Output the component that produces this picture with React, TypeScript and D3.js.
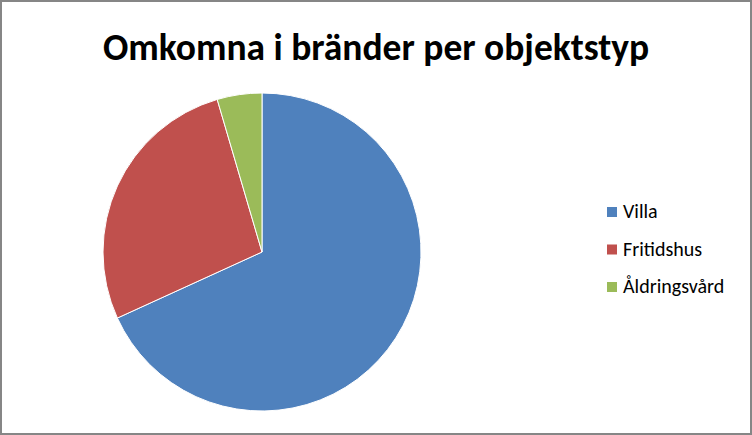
import React, { useEffect, useRef } from 'react';
import * as d3 from 'd3';

const categories = ['Villa', 'Fritidshus', 'Åldringsvård'];
const values = [15, 6, 1];
const colors = ['#4f81bd', '#c0504d', '#9bbb59'];
const title = 'Omkomna i bränder per objektstyp';

const width = 752;
const height = 435;

const App: React.FC = () => {
  const svgRef = useRef<SVGSVGElement>(null);

  useEffect(() => {
    if (!svgRef.current) return;
    const svg = d3.select(svgRef.current);
    svg.selectAll('*').remove();

    const font = 'Carlito, Calibri, "Open Sans", "Liberation Sans", sans-serif';

    // fond + cadre
    svg.append('rect')
      .attr('x', 1).attr('y', 1)
      .attr('width', width - 2).attr('height', height - 2)
      .attr('fill', '#ffffff')
      .attr('stroke', '#868686')
      .attr('stroke-width', 2);

    svg.append('text')
      .attr('x', 376)
      .attr('y', 60)
      .attr('text-anchor', 'middle')
      .attr('fill', '#000')
      .style('font-family', font)
      .style('font-weight', 'bold')
      .style('font-size', '37.5px')
      .text(title);

    const cx = 262;
    const cy = 252;
    const radius = 159;

    const pie = d3.pie<number>().sort(null).value(d => d);
    const arc = d3.arc<d3.PieArcDatum<number>>().innerRadius(0).outerRadius(radius);

    const g = svg.append('g').attr('transform', `translate(${cx},${cy})`);
    g.selectAll('path')
      .data(pie(values))
      .enter()
      .append('path')
      .attr('d', arc)
      .attr('fill', (_, i) => colors[i])
      .attr('stroke', '#ffffff')
      .attr('stroke-width', 1);

    const legend = svg.append('g').attr('transform', 'translate(607,207)');
    categories.forEach((c, i) => {
      const row = legend.append('g').attr('transform', `translate(0,${i * 37.5})`);
      row.append('rect')
        .attr('width', 10).attr('height', 10)
        .attr('fill', colors[i]);
      row.append('text')
        .attr('x', 16)
        .attr('y', 11)
        .attr('fill', '#000')
        .style('font-family', font)
        .style('font-size', '20px')
        .text(c);
    });
  }, []);

  return (
    <div style={{ position: 'absolute', left: 0, top: 0 }}>
      <svg ref={svgRef} width={width} height={height} viewBox={`0 0 ${width} ${height}`} style={{ display: 'block' }} />
    </div>
  );
};

export default App;
